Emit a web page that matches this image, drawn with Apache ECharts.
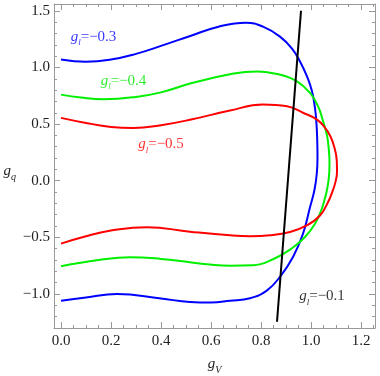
<!DOCTYPE html>
<html>
<head>
<meta charset="utf-8">
<script src="https://cdn.jsdelivr.net/npm/echarts@6/dist/echarts.min.js"></script>
<style>
  html, body { margin: 0; padding: 0; background: #fff; }
  #main { width: 380px; height: 376px; }
</style>
</head>
<body>
<div id="main"></div>
<script>
// contour g_l = -0.3 (traced top half then back along the bottom)
var blue = [[0,1.07],[0.1,1.05],[0.2,1.07],[0.3,1.12],[0.4,1.19],[0.52,1.28],[0.63,1.36],[0.74,1.395],
  [0.808,1.36],[0.876,1.272],[0.924,1.167],[0.956,1.053],[0.984,0.921],[1.004,0.789],[1.016,0.64],
  [1.022,0.5],[1.025,0.35],[1.026,0.2],[1.023,0.06],[1.014,-0.08],[0.996,-0.234],[0.968,-0.468],
  [0.928,-0.673],[0.876,-0.848],[0.823,-0.97],[0.756,-1.038],[0.676,-1.06],
  [0.6,-1.075],[0.516,-1.07],[0.4,-1.04],[0.224,-1.0],[0.1,-1.03],[0,-1.06]];
// g_l = -0.4
var green = [[0,0.76],[0.08,0.735],[0.17,0.72],[0.3,0.74],[0.4,0.78],[0.52,0.86],[0.676,0.94],[0.784,0.965],
  [0.876,0.936],[0.944,0.877],[0.996,0.775],[1.028,0.658],[1.048,0.526],[1.064,0.4],[1.071,0.28],
  [1.074,0.16],[1.072,0.04],[1.064,-0.08],[1.055,-0.16],[1.043,-0.248],[1.016,-0.38],[0.976,-0.497],
  [0.924,-0.596],[0.848,-0.693],[0.768,-0.746],[0.676,-0.75],[0.596,-0.74],
  [0.516,-0.72],[0.4,-0.69],[0.276,-0.675],[0.15,-0.7],[0,-0.755]];
// g_l = -0.5
var red = [[0,0.555],[0.1,0.51],[0.2,0.475],[0.29,0.465],[0.4,0.49],[0.52,0.54],[0.676,0.62],[0.808,0.673],
  [0.904,0.658],[0.968,0.6],[1.024,0.54],[1.055,0.47],[1.078,0.39],[1.094,0.29],
  [1.103,0.18],[1.104,0.08],[1.098,-0.01],[1.085,-0.1],[1.068,-0.19],[1.036,-0.307],[0.983,-0.395],
  [0.916,-0.453],[0.836,-0.482],[0.756,-0.49],[0.676,-0.482],[0.516,-0.45],
  [0.344,-0.41],[0.2,-0.44],[0.1,-0.49],[0,-0.555]];
// g_l = -0.1
var black = [[0.864,-1.245],[0.96,1.50]];

// curve labels: [x, y, value text, colour]
var labels = [
  [0.13, 1.27, '=−0.3', '#0000ff'],
  [0.25, 0.88, '=−0.4', '#00e800'],
  [0.40, 0.32, '=−0.5', '#ff0000'],
  [1.044, -1.02, '=−0.1', '#000000']
];

var serif = 'Liberation Serif';

function gl(color) {
  return {
    g: { fontFamily: serif, fontStyle: 'italic', fontSize: 15, color: color },
    s: { fontFamily: serif, fontStyle: 'italic', fontSize: 9, color: color, verticalAlign: 'bottom', padding: [0, 0, -3, 0] },
    t: { fontFamily: serif, fontSize: 15, color: color }
  };
}

function tickFmt(step) {
  return function (v) {
    var k = v / step;
    if (Math.abs(k - Math.round(k)) > 1e-6) return '';
    return v.toFixed(1).replace('-', '−');
  };
}

var frameLine = { show: true, onZero: false, lineStyle: { color: '#999', width: 1 } };
var majorTick = { show: true, inside: true, length: 6, lineStyle: { color: '#999' } };
var minorTick = { show: true, length: 3, lineStyle: { color: '#999' } };

var series = [
  { data: blue, color: '#0000ff' },
  { data: green, color: '#00f000' },
  { data: red, color: '#ff0000' },
  { data: black, color: '#000000' }
].map(function (s) {
  return {
    type: 'line', data: s.data, symbol: 'none', smooth: 0.45, silent: true,
    lineStyle: { color: s.color, width: 2 }
  };
});

series.push({
  type: 'scatter', symbolSize: 0, silent: true,
  data: labels.map(function (l) {
    return { value: [l[0], l[1]], txt: l[2], label: { rich: gl(l[3]) } };
  }),
  label: {
    show: true, position: 'inside',
    formatter: function (p) { return '{g|g}{s|l}{t|' + p.data.txt + '}'; }
  }
});

var nameRich = {
  g: { fontFamily: serif, fontStyle: 'italic', fontSize: 15, color: '#222' },
  s: { fontFamily: serif, fontStyle: 'italic', fontSize: 10, color: '#222', verticalAlign: 'bottom', padding: [0, 0, -3, 0] }
};

var option = {
  animation: false,
  grid: { left: 54, right: 5, top: 4, bottom: 48, outerBoundsMode: 'none', containLabel: false },
  xAxis: [{
    type: 'value', min: -0.028, max: 1.256, splitNumber: 6,
    axisLine: frameLine, axisTick: majorTick,
    minorTick: Object.assign({ splitNumber: 4 }, minorTick),
    splitLine: { show: false },
    axisLabel: { fontFamily: serif, fontSize: 15, color: '#222', margin: 6, formatter: tickFmt(0.2) },
    name: '{g|g}{s|V}', nameLocation: 'middle', nameGap: 29,
    nameTextStyle: { rich: nameRich }
  }, {
    type: 'value', position: 'top', min: -0.028, max: 1.256, splitNumber: 6,
    axisLine: frameLine, axisTick: majorTick,
    minorTick: Object.assign({ splitNumber: 4 }, minorTick),
    splitLine: { show: false }, axisLabel: { show: false }
  }],
  yAxis: [{
    type: 'value', min: -1.3, max: 1.56, splitNumber: 6,
    axisLine: frameLine, axisTick: majorTick,
    minorTick: Object.assign({ splitNumber: 5 }, minorTick),
    splitLine: { show: false },
    axisLabel: { fontFamily: serif, fontSize: 15, color: '#222', margin: 4, formatter: tickFmt(0.5) },
    name: '{g|g}{s|q}', nameLocation: 'middle', nameGap: 38, nameRotate: 0,
    nameTextStyle: { rich: nameRich, padding: [11, 0, 0, 0] }
  }, {
    type: 'value', position: 'right', min: -1.3, max: 1.56, splitNumber: 6,
    axisLine: frameLine, axisTick: majorTick,
    minorTick: Object.assign({ splitNumber: 5 }, minorTick),
    splitLine: { show: false }, axisLabel: { show: false }
  }],
  series: series
};

var chart = echarts.init(document.getElementById('main'), null, { renderer: 'canvas' });
chart.setOption(option);
</script>
</body>
</html>
